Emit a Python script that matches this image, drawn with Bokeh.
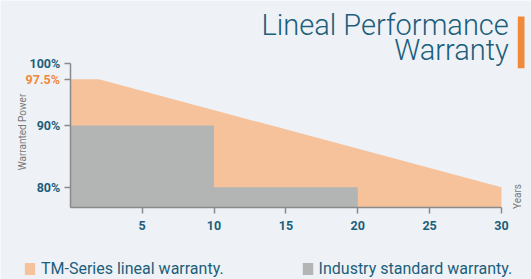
import math
from bokeh.plotting import figure
from bokeh.models import (Label, Legend, LegendItem, FixedTicker, Range1d, BoxAnnotation)
from bokeh.embed import file_html
from bokeh.resources import INLINE

# ---- data ----
years_tm = [0, 2, 30]
power_tm = [97.5, 97.5, 80]
years_ind = [0, 10, 10, 20]
power_ind = [90, 90, 80, 80]
x_ticks = [5, 10, 15, 20, 25, 30]
y_ticks = [80, 90, 97.5, 100]
y_labels = {80: "80%", 90: "90%", 97.5: "", 100: "100%"}
x_lo, x_hi = 0, 30
y_base, y_top = 76.7, 100
title1 = "Lineal Performance"
title2 = "Warranty"
legend_tm = "TM-Series lineal warranty."
legend_ind = "Industry standard warranty."

# ---- layout (pixels) ----
W, H = 531, 279
PX_X0, PX_X30 = 69.8, 501.0       # screen x of year 0 and year 30
PX_YBASE, PX_YTOP = 207.0, 61.7   # screen y (from top) of y_base and 100.28
Y_AT_TOP = 100.28
sx = (PX_X30 - PX_X0) / (x_hi - x_lo)
sy = (PX_YBASE - PX_YTOP) / (Y_AT_TOP - y_base)
xr = Range1d(x_lo - PX_X0 / sx, x_hi + (W - PX_X30) / sx)
yr = Range1d(y_base - (H - PX_YBASE) / sy, Y_AT_TOP + PX_YTOP / sy)

BG = "#eef2f6"
ORANGE_FILL = "#f5c29b"
GRAY_FILL = "#b3b4b4"
TEAL = "#1c5e7b"
ACCENT = "#f0893a"
AXIS = "#8a8a8a"
FONT = "Roboto"

p = figure(width=W, height=H, output_backend="svg", toolbar_location=None,
           x_range=xr, y_range=yr,
           min_border=0, min_border_left=0, min_border_right=0,
           min_border_top=0, min_border_bottom=0)
p.background_fill_color = BG
p.border_fill_color = BG
p.outline_line_color = None
p.grid.visible = False

r_tm = p.varea(x=years_tm, y1=[y_base] * len(years_tm), y2=power_tm, fill_color=ORANGE_FILL)
r_ind = p.varea(x=years_ind, y1=[y_base] * len(years_ind), y2=power_ind, fill_color=GRAY_FILL)

for ax in (p.xaxis[0], p.yaxis[0]):
    ax.axis_line_color = AXIS
    ax.axis_line_width = 1.5
    ax.major_tick_line_color = AXIS
    ax.major_tick_line_width = 1.5
    ax.major_tick_in = 0
    ax.major_tick_out = 6
    ax.minor_tick_line_color = None
    ax.major_label_text_color = TEAL
    ax.major_label_text_font = FONT
    ax.major_label_text_font_style = "bold"
    ax.major_label_text_font_size = "12.5px"

p.xaxis.ticker = FixedTicker(ticks=x_ticks)
p.xaxis.fixed_location = y_base
p.xaxis.bounds = (x_lo, x_hi)
p.xaxis.major_label_standoff = 7
p.yaxis.ticker = FixedTicker(ticks=y_ticks)
p.yaxis.major_label_overrides = y_labels
p.yaxis.fixed_location = x_lo
p.yaxis.bounds = (y_base, y_top)
p.yaxis.major_label_standoff = 4

# orange 97.5% label
p.add_layout(Label(x=59.5, x_units="screen", y=97.5, text="97.5%", text_align="right",
                   text_baseline="middle", text_color=ACCENT, text_font=FONT,
                   text_font_style="bold", text_font_size="12.5px"))

# axis titles
p.add_layout(Label(x=22, x_units="screen", y=H - 131.5, y_units="screen", text="Warranted Power",
                   angle=math.pi / 2, text_align="center", text_baseline="middle",
                   text_color="#7a7a7a", text_font=FONT, text_font_size="10px"))
p.add_layout(Label(x=517, x_units="screen", y=H - 196, y_units="screen", text="Years",
                   angle=math.pi / 2, text_align="center", text_baseline="middle",
                   text_color="#7a7a7a", text_font=FONT, text_font_size="10px"))

# title
for txt, yy in ((title1, H - 24), (title2, H - 49.5)):
    p.add_layout(Label(x=508.3, x_units="screen", y=yy, y_units="screen", text=txt,
                       text_align="right", text_baseline="alphabetic", text_color=TEAL,
                       text_font="Roboto Light", text_font_size="29px"))
p.add_layout(BoxAnnotation(left=517.3, right=524, top=H - 16, bottom=H - 67.7,
                           left_units="screen", right_units="screen",
                           top_units="screen", bottom_units="screen",
                           fill_color=ACCENT, fill_alpha=1, line_color=None))

legend = Legend(items=[LegendItem(label=legend_tm, renderers=[r_tm]),
                       LegendItem(label=legend_ind, renderers=[r_ind])],
                orientation="horizontal", location=(23, 1),
                glyph_width=13, glyph_height=15, label_standoff=5, spacing=77,
                padding=0, margin=0, border_line_color=None, background_fill_alpha=0,
                label_text_font=FONT, label_text_font_size="16px",
                label_text_color=TEAL, label_height=15)
p.add_layout(legend)

open("out.html", "w").write(file_html(p, INLINE))
